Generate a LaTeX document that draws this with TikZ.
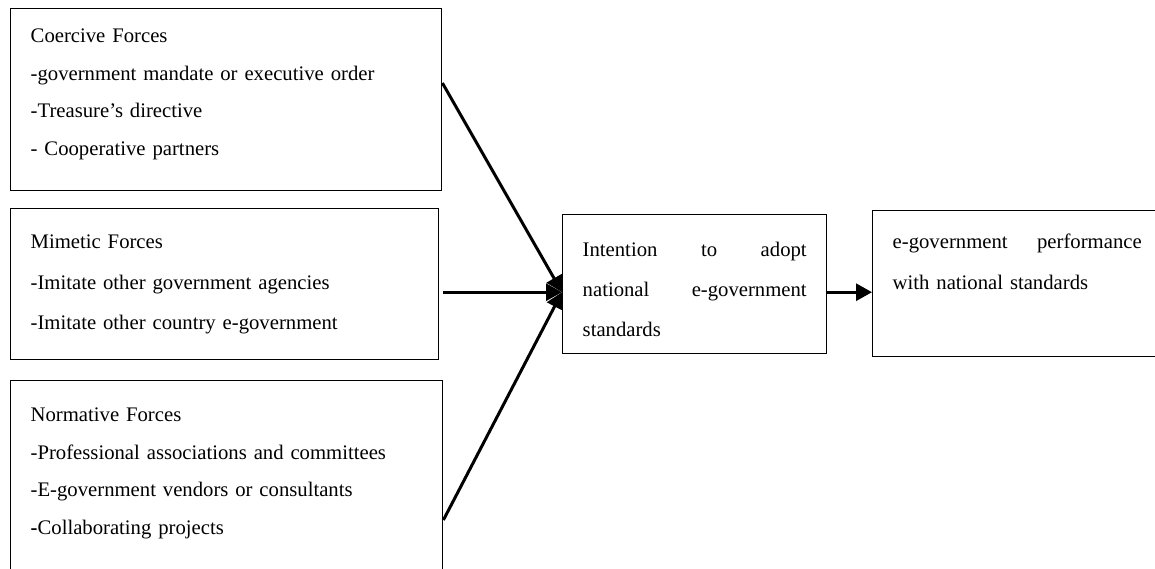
\documentclass[tikz,border=0pt]{standalone}
\usepackage{fontspec}
\setmainfont{Liberation Serif}
\usetikzlibrary{arrows.meta}
\newcommand{\linesat}[1]{\fontsize{20.7}{#1}\selectfont}

\begin{document}
\begin{tikzpicture}[
  x=1pt,y=-1pt,
  flow/.style={-{Triangle[length=16pt,width=17pt]},line width=3pt},
  force/.style={draw,line width=1.4pt,anchor=north west,align=left,
    font=\linesat{37.5},inner xsep=20pt,text height=14pt}
]
\useasboundingbox (0,0) rectangle (1155,568);
\node[force,text width=391pt,inner ysep=20pt,text depth=128pt] (coercive) at (10,8)
  {Coercive Forces\\ -government mandate or executive order\\
   -Treasure’s directive\\ - Cooperative partners};
\node[force,text width=388pt,inner ysep=26pt,text depth=85pt,font=\linesat{40.5}]
  (mimetic) at (10,208)
  {Mimetic Forces\\ -Imitate other government agencies\\
   -Imitate other country e-government};
\node[force,text width=392pt,inner ysep=27pt,text depth=142pt] (normative) at (10,380)
  {Normative Forces\\ -Professional associations and committees\\
   -E-government vendors or consultants\\ \textbf{-}Collaborating projects};
\node[force,text width=224pt,inner ysep=28pt,text depth=69pt,font=\linesat{40}]
  (intention) at (562,214)
  {Intention\hfill to\hfill adopt\\ national\hfill e-government\\ standards};
\node[force,text width=249pt,inner ysep=24pt,text depth=84pt,font=\linesat{41}]
  (performance) at (872,210)
  {e-government\hfill performance\\ with national standards};
\coordinate (inport) at ([yshift=-8pt]intention.west);
\draw[flow] ([yshift=-75pt]coercive.north east) -- (inport);
\draw[flow] ([xshift=4pt]mimetic.east |- inport) -- (inport);
\draw[flow] ([yshift=-140pt]normative.north east) -- (inport);
\draw[flow] (intention.east |- inport) -- (performance.west |- inport);
\end{tikzpicture}
\end{document}
